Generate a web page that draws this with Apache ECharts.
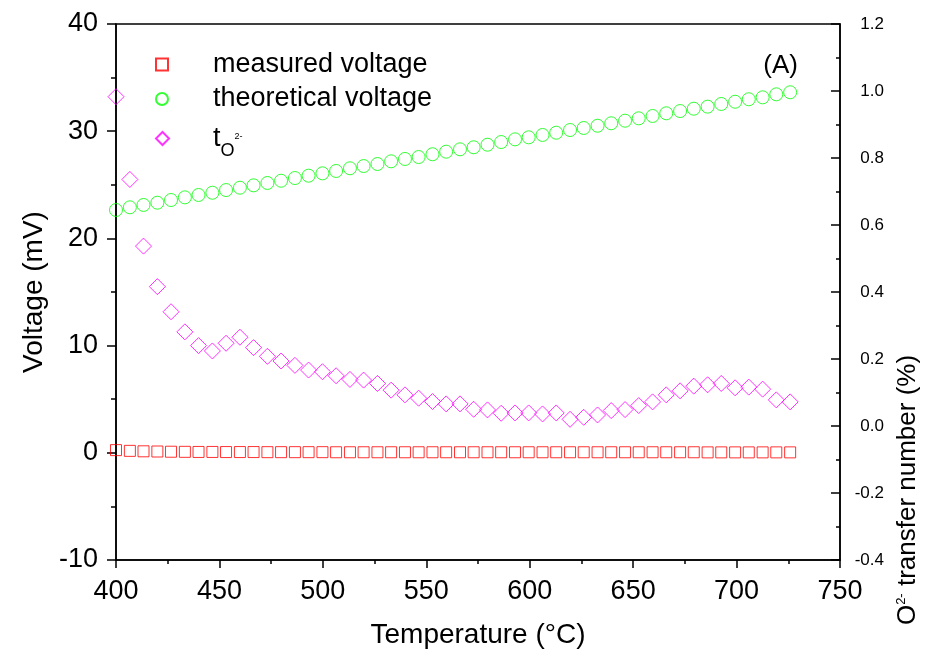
<!DOCTYPE html>
<html>
<head>
<meta charset="utf-8">
<script src="https://cdn.jsdelivr.net/npm/echarts@6/dist/echarts.min.js"></script>
<style>html,body{margin:0;padding:0;background:#fff}#c{width:941px;height:660px}</style>
</head>
<body>
<div id="c"></div>
<script>
// Temperature (°C)
const temperature = [400.0, 406.7, 413.3, 420.0, 426.6, 433.3, 439.9, 446.6, 453.2, 459.9,
  466.5, 473.2, 479.8, 486.5, 493.1, 499.8, 506.4, 513.1, 519.7, 526.4,
  533.0, 539.7, 546.3, 553.0, 559.6, 566.3, 572.9, 579.6, 586.2, 592.9,
  599.5, 606.2, 612.8, 619.5, 626.1, 632.8, 639.4, 646.1, 652.7, 659.4,
  666.0, 672.7, 679.3, 686.0, 692.6, 699.3, 705.9, 712.6, 719.2, 725.9];
// measured voltage (mV)
const measuredVoltage = [0.25, 0.18, 0.14, 0.12, 0.10, 0.09, 0.08, 0.08, 0.07, 0.07,
  0.07, 0.06, 0.06, 0.06, 0.06, 0.06, 0.05, 0.05, 0.05, 0.05,
  0.05, 0.05, 0.05, 0.05, 0.05, 0.05, 0.05, 0.05, 0.05, 0.05,
  0.05, 0.05, 0.05, 0.05, 0.05, 0.05, 0.05, 0.05, 0.05, 0.05,
  0.05, 0.05, 0.05, 0.04, 0.04, 0.04, 0.04, 0.04, 0.04, 0.04];
// theoretical voltage (mV)
const theoreticalVoltage = [22.65, 22.90, 23.12, 23.33, 23.58, 23.83, 24.05, 24.26, 24.51, 24.73,
  24.95, 25.17, 25.38, 25.63, 25.85, 26.07, 26.29, 26.54, 26.75, 26.94,
  27.19, 27.41, 27.59, 27.85, 28.09, 28.31, 28.50, 28.74, 28.99, 29.24,
  29.43, 29.65, 29.86, 30.11, 30.30, 30.51, 30.74, 30.98, 31.20, 31.42,
  31.67, 31.88, 32.10, 32.29, 32.54, 32.75, 32.98, 33.16, 33.44, 33.63];
// O2- transfer number
const transferNumber = [0.983, 0.736, 0.537, 0.416, 0.341, 0.281, 0.240, 0.224, 0.247, 0.265,
  0.234, 0.208, 0.194, 0.181, 0.167, 0.162, 0.150, 0.139, 0.137, 0.127,
  0.107, 0.093, 0.083, 0.073, 0.066, 0.066, 0.050, 0.048, 0.038, 0.039,
  0.039, 0.036, 0.039, 0.020, 0.026, 0.033, 0.046, 0.049, 0.061, 0.072,
  0.093, 0.105, 0.119, 0.123, 0.127, 0.114, 0.116, 0.110, 0.078, 0.072];

const xTicks = {min: 400, max: 750, interval: 50};
const yLeftTicks = {min: -10, max: 40, interval: 10};
const yRightTicks = {min: -0.4, max: 1.2, interval: 0.2};

const FONT = 'Liberation Sans, Arial, sans-serif';

function pairs(xs, ys) { return xs.map((x, i) => [x, ys[i]]); }

const legendText = {fontFamily: FONT, fontSize: 27, color: '#000', padding: [0, 0, 0, 40],
  rich: {
    t: {fontFamily: FONT, fontSize: 27, color: '#000'},
    sub: {fontFamily: FONT, fontSize: 18, color: '#000', padding: [26, 0, 0, 0]},
    sup: {fontFamily: FONT, fontSize: 9, color: '#000', padding: [0, 0, 4, 0]}
  }};

const chart = echarts.init(document.getElementById('c'), null, {renderer: 'canvas'});
chart.setOption({
  animation: false,
  backgroundColor: '#fff',
  grid: {left: 116, right: 101, top: 24, bottom: 100, show: true, borderColor: '#000', borderWidth: 1.5, backgroundColor: 'transparent'},
  title: {text: '(A)', right: 138, top: 48, textStyle: {fontFamily: FONT, fontSize: 26, fontWeight: 'normal', color: '#000'}},
  legend: [{
    orient: 'vertical', left: 155, top: 51, padding: 0, itemWidth: 12, itemHeight: 12, itemGap: 7.5,
    data: ['measured voltage', 'theoretical voltage'],
    textStyle: legendText
  }, {
    orient: 'vertical', left: 155, top: 125, padding: 0, itemWidth: 13, itemHeight: 13,
    data: ['tO'],
    textStyle: Object.assign({}, legendText, {padding: [0, 0, 0, 39]}),
    formatter: function () { return '{t|t}{sub|O}{sup|2-}'; }
  }],
  xAxis: {
    type: 'value', min: xTicks.min, max: xTicks.max, interval: xTicks.interval,
    axisLine: {onZero: false, lineStyle: {color: '#000', width: 1.5}},
    axisTick: {length: 8, lineStyle: {color: '#000', width: 1.5}},
    minorTick: {show: true, splitNumber: 2, length: 4, lineStyle: {color: '#000', width: 1.5}},
    splitLine: {show: false},
    axisLabel: {fontFamily: FONT, fontSize: 27, color: '#000', margin: 18},
    name: 'Temperature (°C)', nameLocation: 'middle', nameGap: 61,
    nameTextStyle: {fontFamily: FONT, fontSize: 28, color: '#000'}
  },
  yAxis: [{
    type: 'value', position: 'left', min: yLeftTicks.min, max: yLeftTicks.max, interval: yLeftTicks.interval,
    axisLine: {show: true, onZero: false, lineStyle: {color: '#000', width: 1.5}},
    axisTick: {show: true, length: 9, lineStyle: {color: '#000', width: 1.5}},
    minorTick: {show: true, splitNumber: 2, length: 5, lineStyle: {color: '#000', width: 1.5}},
    splitLine: {show: false},
    axisLabel: {fontFamily: FONT, fontSize: 27, color: '#000', margin: 18},
    name: 'Voltage (mV)', nameLocation: 'middle', nameGap: 68, nameRotate: 90,
    nameTextStyle: {fontFamily: FONT, fontSize: 28, color: '#000'}
  }, {
    type: 'value', position: 'right', min: yRightTicks.min, max: yRightTicks.max, interval: yRightTicks.interval,
    axisLine: {show: true, onZero: false, lineStyle: {color: '#000', width: 1.5}},
    axisTick: {show: true, inside: true, length: 9, lineStyle: {color: '#000', width: 1.5}},
    minorTick: {show: true, splitNumber: 2, length: 4, lineStyle: {color: '#000', width: 1.5}},
    splitLine: {show: false},
    axisLabel: {fontFamily: FONT, fontSize: 17, color: '#000', margin: 44, align: 'right', formatter: v => v.toFixed(1)},
    name: 'O{sup|2-} transfer number (%)', nameLocation: 'middle', nameGap: 53, nameRotate: 90,
    nameTextStyle: {fontFamily: FONT, fontSize: 26, color: '#000', padding: [0, 396, 0, 0],
      rich: {sup: {fontFamily: FONT, fontSize: 13, color: '#000', padding: [0, 0, 12, 0]}}}
  }],
  series: [{
    name: 'measured voltage', type: 'scatter', yAxisIndex: 0, symbol: 'rect', symbolSize: 11,
    itemStyle: {color: 'transparent', borderColor: '#FF0000', borderWidth: 1},
    emphasis: {disabled: true},
    data: pairs(temperature, measuredVoltage)
  }, {
    name: 'theoretical voltage', type: 'scatter', yAxisIndex: 0, symbol: 'circle', symbolSize: 13,
    itemStyle: {color: 'transparent', borderColor: '#00FF00', borderWidth: 1},
    emphasis: {disabled: true},
    data: pairs(temperature, theoreticalVoltage)
  }, {
    name: 'tO', type: 'scatter', yAxisIndex: 1, symbol: 'diamond', symbolSize: 16,
    itemStyle: {color: 'transparent', borderColor: '#FF00FF', borderWidth: 1},
    emphasis: {disabled: true},
    data: pairs(temperature, transferNumber)
  }]
});
</script>
</body>
</html>
